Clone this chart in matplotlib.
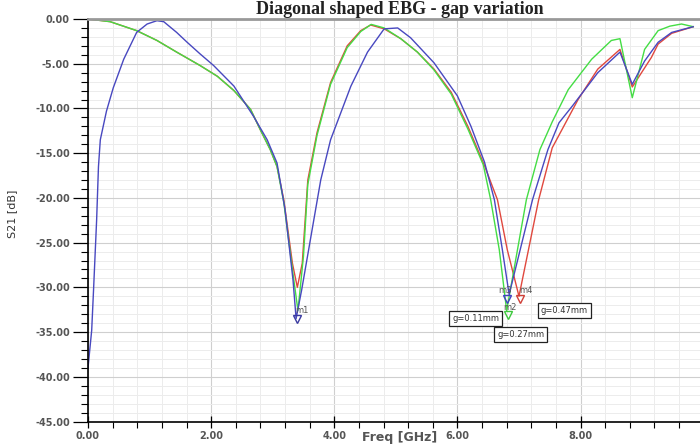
import matplotlib
matplotlib.use("Agg")
import matplotlib.pyplot as plt
from matplotlib.ticker import MultipleLocator, FormatStrFormatter

# S21 curves (freq in GHz, S21 in dB)
freq_011 = [0.0, 0.06, 0.09, 0.14, 0.17, 0.2, 0.3, 0.41, 0.58, 0.79, 0.96, 1.12, 1.23, 1.44,
            1.61, 1.82, 2.04, 2.37, 2.69, 2.91, 3.07, 3.2, 3.33, 3.38, 3.47, 3.78, 3.94,
            4.27, 4.54, 4.81, 5.03, 5.24, 5.62, 6.0, 6.22, 6.44, 6.6, 6.73, 6.84, 7.22, 7.47,
            7.65, 7.87, 8.28, 8.64, 8.84, 9.04, 9.26, 9.48, 9.83]
s21_011 = [-39.0, -34.8, -30.3, -22.5, -16.5, -13.5, -10.3, -7.7, -4.5, -1.5, -0.56, -0.19, -0.3, -1.5,
           -2.6, -3.9, -5.2, -7.5, -10.9, -13.5, -16.1, -21.3, -29.2, -33.5, -30.3, -18.0, -13.5,
           -7.5, -3.7, -1.1, -1.0, -2.1, -4.9, -8.6, -12.0, -16.0, -20.2, -25.8, -30.8, -20.2, -14.6,
           -11.6, -9.7, -6.0, -3.7, -7.3, -4.7, -2.6, -1.5, -0.86]

freq_027 = [0.0, 0.36, 0.79, 1.12, 1.44, 1.82, 2.1, 2.37, 2.64, 2.8, 2.96, 3.07, 3.18, 3.33,
            3.41, 3.5, 3.57, 3.72, 3.94, 4.21, 4.43, 4.6, 4.81, 5.08, 5.35, 5.62, 5.9, 6.17,
            6.42, 6.54, 6.68, 6.8, 7.12, 7.34, 7.54, 7.8, 8.18, 8.5, 8.64, 8.84, 9.04, 9.26,
            9.45, 9.64, 9.83]
s21_027 = [0.0, -0.3, -1.3, -2.4, -3.7, -5.2, -6.4, -8.0, -10.1, -12.4, -14.6, -16.5, -20.5, -28.5,
           -32.6, -26.5, -18.5, -13.0, -7.3, -3.2, -1.4, -0.6, -1.0, -2.2, -3.7, -5.7, -8.4, -12.3,
           -16.3, -20.2, -25.8, -32.6, -20.2, -14.6, -11.5, -7.9, -4.5, -2.4, -2.2, -8.8, -3.4,
           -1.3, -0.8, -0.56, -0.86]

freq_047 = [0.0, 0.36, 0.79, 1.12, 1.44, 1.82, 2.1, 2.37, 2.64, 2.8, 2.96, 3.07, 3.18, 3.32,
            3.40, 3.48, 3.57, 3.72, 3.94, 4.21, 4.43, 4.59, 4.81, 5.08, 5.35, 5.62, 5.9, 6.17,
            6.44, 6.65, 6.81, 7.0, 7.32, 7.54, 7.96, 8.28, 8.64, 8.84, 9.15, 9.26, 9.48, 9.83]
s21_047 = [0.0, -0.3, -1.3, -2.4, -3.7, -5.2, -6.4, -8.0, -10.1, -12.4, -14.6, -16.5, -20.2, -27.3,
           -30.0, -27.3, -18.0, -12.7, -7.1, -3.0, -1.3, -0.67, -1.1, -2.2, -3.7, -5.6, -8.2, -12.0,
           -16.4, -20.2, -25.8, -31.0, -20.2, -14.4, -9.0, -5.6, -3.4, -7.6, -4.3, -2.8, -1.6, -0.86]

# markers m1..m4
marker_names = ["m1", "m2", "m3", "m4"]
marker_freq = [3.40, 6.82, 6.81, 7.01]
marker_s21 = [-33.5, -33.1, -31.3, -31.3]
marker_colors = ["#3a3aa0", "#3cc83c", "#4040c0", "#d04038"]
label_offsets = [(0.07, 0.9), (0.03, 0.9), (-0.04, 0.9), (0.11, 0.9)]

gap_labels = ["g=0.11mm", "g=0.27mm", "g=0.47mm"]
gap_label_pos = [(6.30, -33.5), (7.03, -35.3), (7.74, -32.6)]

fig = plt.figure(figsize=(7, 4.45), dpi=100)
ax = fig.add_axes([88 / 700, 1 - 421.5 / 445, 1 - 88 / 700, (421.5 - 19) / 445])

ax.plot(freq_047, s21_047, color="#e0483e", lw=1.0)
ax.plot(freq_027, s21_027, color="#44dd44", lw=1.0)
ax.plot(freq_011, s21_011, color="#4848c0", lw=1.0)

for name, fx, fy, c, (dx, dy) in zip(marker_names, marker_freq, marker_s21, marker_colors, label_offsets):
    ax.plot(fx, fy, marker="v", ms=6, mfc="none", mec=c, mew=1.0)
    ax.text(fx + dx, fy + dy, name, fontsize=6, color="#555555", ha="center", va="center")

for txt, (tx, ty) in zip(gap_labels, gap_label_pos):
    ax.text(tx, ty, txt, fontsize=6, ha="center", va="center", color="#333333",
            bbox=dict(boxstyle="square,pad=0.35", fc="white", ec="#222222", lw=0.9))

ax.set_xlim(0, 9.94)
ax.set_ylim(-45, 0)

ax.xaxis.set_major_locator(MultipleLocator(2))
ax.xaxis.set_minor_locator(MultipleLocator(0.4))
ax.yaxis.set_major_locator(MultipleLocator(5))
ax.yaxis.set_minor_locator(MultipleLocator(1))
ax.xaxis.set_major_formatter(FormatStrFormatter("%.2f"))
ax.yaxis.set_major_formatter(FormatStrFormatter("%.2f"))

ax.grid(which="major", color="#cfcfcf", lw=0.8)
ax.grid(which="minor", color="#ececec", lw=0.7)
ax.set_axisbelow(True)

ax.tick_params(axis="y", which="major", direction="out", length=11, width=0.9,
               labelsize=7, labelcolor="#555555", pad=2)
ax.tick_params(axis="y", which="minor", direction="out", length=5, width=0.8)
ax.tick_params(axis="x", which="major", direction="inout", length=8, width=0.9,
               labelsize=7, labelcolor="#555555", pad=3)
ax.tick_params(axis="x", which="minor", direction="out", length=4, width=0.8)
for lab in ax.get_xticklabels() + ax.get_yticklabels():
    lab.set_fontweight("bold")

ax.spines["right"].set_visible(False)
ax.spines["top"].set_color("#999999")
ax.spines["top"].set_linewidth(2)
ax.spines["left"].set_linewidth(1.2)
ax.spines["bottom"].set_linewidth(1.2)

fig.text(400 / 700, 1 - 9 / 445, "Diagonal shaped EBG - gap variation", ha="center", va="center",
         fontsize=13, family="Liberation Serif", fontweight="bold", color="#222222")
fig.text(12 / 700, 1 - 214 / 445, "S21 [dB]", rotation=90, ha="center", va="center",
         fontsize=8, color="#333333")
fig.text(400 / 700, 1 - 438 / 445, "Freq [GHz]", ha="center", va="center",
         fontsize=9, fontweight="bold", color="#555555")

fig.savefig("out.png", dpi=100)
